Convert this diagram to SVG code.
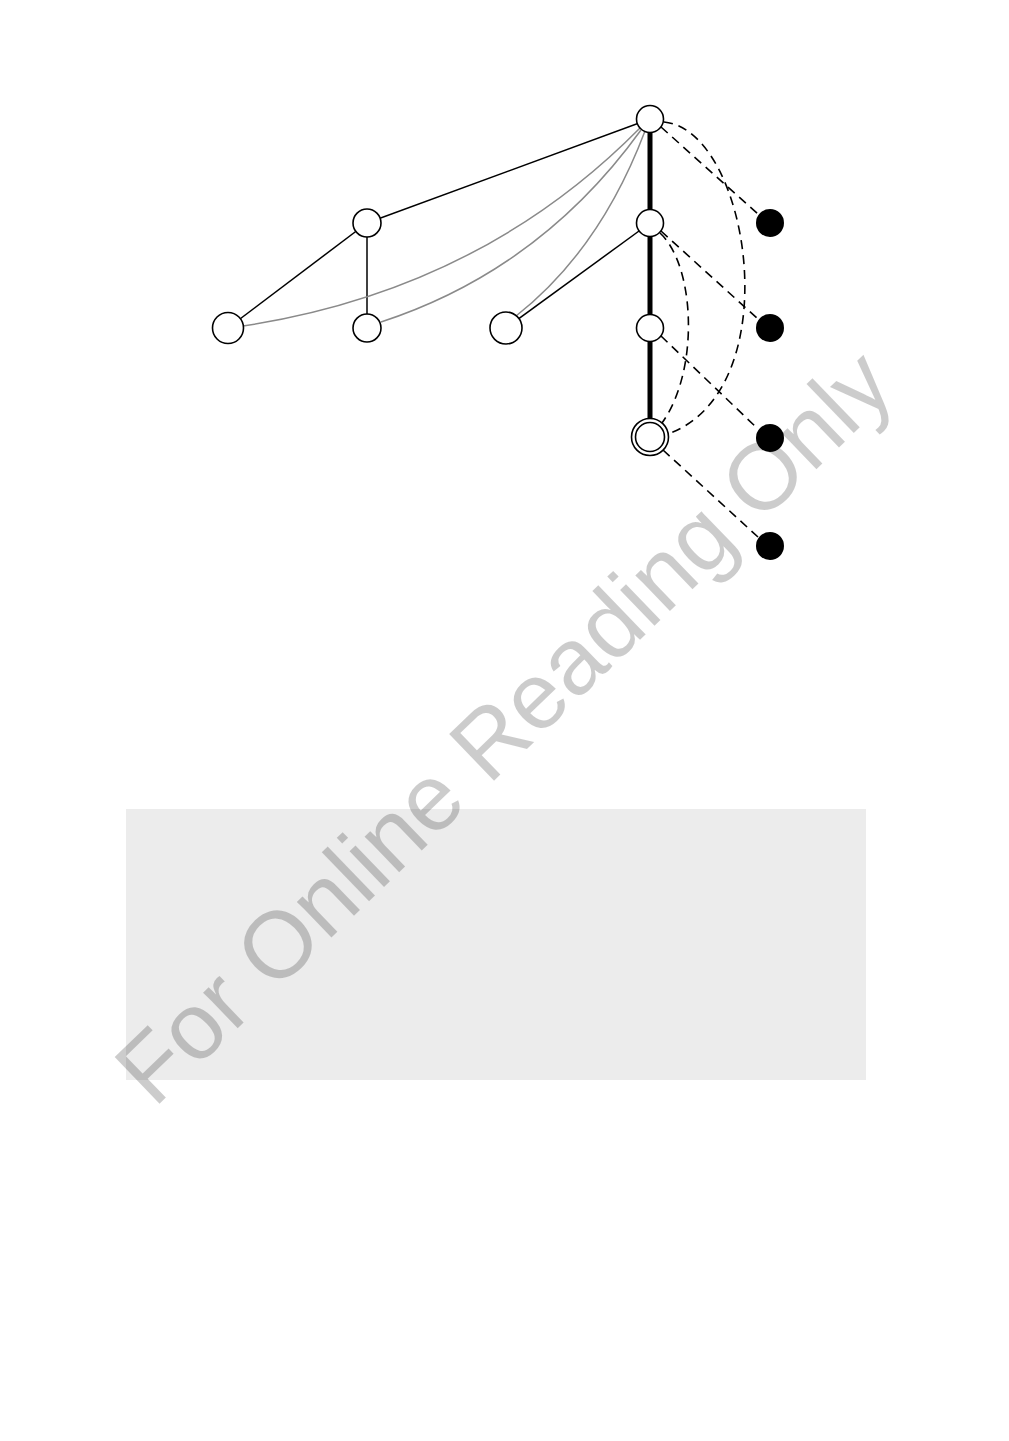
<svg xmlns="http://www.w3.org/2000/svg" width="1009" height="1441" viewBox="0 0 1009 1441">
<style>
.n{fill:#fff;stroke:#000;stroke-width:1.6}
.b{fill:#000;stroke:none}
.e{fill:none;stroke:#000;stroke-width:1.5}
.g{fill:none;stroke:#8a8a8a;stroke-width:1.5}
.d{fill:none;stroke:#000;stroke-width:1.6;stroke-dasharray:9,6}
.t{fill:none;stroke:#000;stroke-width:5}
.wm{font-family:"Liberation Sans",Arial,sans-serif;font-size:94px;fill:#000;fill-opacity:0.2}
</style>
<rect x="0" y="0" width="1009" height="1441" fill="#fff"/>
<rect id="panel" x="126" y="809" width="740" height="271" fill="#ececec"/>
<text class="wm" transform="translate(154,1109) rotate(-44)">For Online Reading Only</text>
<g id="connectors">
<line class="t" x1="650" y1="119" x2="650" y2="437"/>
<line class="e" x1="367" y1="223" x2="650" y2="119"/>
<line class="e" x1="228" y1="328" x2="367" y2="223"/>
<line class="e" x1="367" y1="223" x2="367" y2="328"/>
<line class="e" x1="506" y1="328" x2="650" y2="223"/>
<path class="g" d="M243,326 Q480,290 640,128"/>
<path class="g" d="M381,322 Q540,270 641,130"/>
<path class="g" d="M516,316 Q600,250 645,131"/>
<line class="d" x1="661" y1="127" x2="758" y2="214"/>
<line class="d" x1="661" y1="231" x2="758" y2="319"/>
<line class="d" x1="661" y1="336" x2="758" y2="429"/>
<line class="d" x1="663" y1="450" x2="758" y2="537"/>
<path class="d" d="M664,122 C750,130 790,390 668,434"/>
<path class="d" d="M660,233 C695,265 700,370 662,423"/>
</g>
<g id="n1"><circle class="n" cx="650" cy="119" r="13.5"/></g>
<g id="n2"><circle class="n" cx="650" cy="223" r="13.5"/></g>
<g id="n3"><circle class="n" cx="650" cy="328" r="13.5"/></g>
<g id="n4"><circle class="n" cx="650" cy="437" r="18.5"/><circle class="n" cx="650" cy="437" r="14.5"/></g>
<g id="n5"><circle class="n" cx="367" cy="223" r="14"/></g>
<g id="n6"><circle class="n" cx="228" cy="328" r="15.5"/></g>
<g id="n7"><circle class="n" cx="367" cy="328" r="14"/></g>
<g id="n8"><circle class="n" cx="506" cy="328" r="16"/></g>
<g id="k1"><circle class="b" cx="770" cy="223" r="14"/></g>
<g id="k2"><circle class="b" cx="770" cy="328" r="14"/></g>
<g id="k3"><circle class="b" cx="770" cy="438" r="14"/></g>
<g id="k4"><circle class="b" cx="770" cy="546" r="14"/></g>
</svg>
